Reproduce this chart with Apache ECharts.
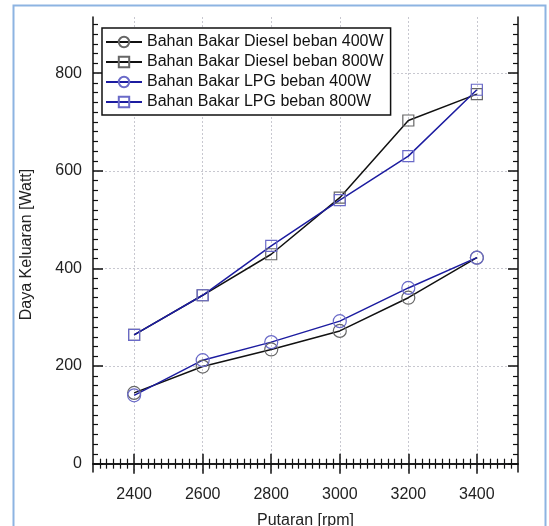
<!DOCTYPE html>
<html>
<head>
<meta charset="utf-8">
<script src="https://cdn.jsdelivr.net/npm/echarts@6/dist/echarts.min.js"></script>
<style>
html,body{margin:0;padding:0;background:#fff;}
#c{width:549px;height:526px;}
</style>
</head>
<body>
<div id="c"></div>
<script>
// ---- data ----
const rpm = [2400, 2600, 2800, 3000, 3200, 3400];
const diesel400 = [145, 199, 234, 272, 340, 422];
const diesel800 = [264, 345, 429, 545, 703, 757];
const lpg400 = [140, 212, 249, 292, 360, 422];
const lpg800 = [264, 345, 446, 540, 630, 766];
const seriesNames = [
  'Bahan Bakar Diesel beban 400W',
  'Bahan Bakar Diesel beban 800W',
  'Bahan Bakar LPG beban 400W',
  'Bahan Bakar LPG beban 800W'
];
const xTicks = [2400, 2600, 2800, 3000, 3200, 3400];
const yTicks = [0, 200, 400, 600, 800];
const xLabel = 'Putaran [rpm]';
const yLabel = 'Daya Keluaran [Watt]';

const xMin = 2280, xMax = 3520;
const yMin = -17, yMax = 915;

const xMinor = [];
for (let v = 2300; v < xMax; v += 20) if (xTicks.indexOf(v) < 0) xMinor.push(v);
const yMinor = [];
for (let v = 0; v < yMax; v += 20) if (yTicks.indexOf(v) < 0) yMinor.push(v);

const font = 'Liberation Sans, Arial, sans-serif';

function axisBase(extra) {
  return Object.assign({
    type: 'value',
    axisLine: { show: false },
    axisTick: { show: false },
    axisLabel: { show: false },
    splitLine: { show: false }
  }, extra);
}

const xAxes = [
  axisBase({
    min: xMin, max: xMax, position: 'bottom',
    name: xLabel, nameLocation: 'middle', nameGap: 41,
    nameTextStyle: { fontFamily: font, fontSize: 16, color: '#222' },
    axisLine: { show: true, lineStyle: { color: '#111', width: 1.5 } },
    axisTick: { show: true, inside: true, length: 10, customValues: xTicks, lineStyle: { color: '#111', width: 1.5 } },
    axisLabel: { show: true, customValues: xTicks, margin: 15, fontFamily: font, fontSize: 16, color: '#222', formatter: v => String(v) },
    splitLine: { show: true, lineStyle: { color: '#c8c8d0', type: [2, 2], width: 1 } }
  }),
  axisBase({ min: xMin, max: xMax, position: 'bottom',
    axisTick: { show: true, inside: true, length: 5, customValues: xMinor, lineStyle: { color: '#111', width: 1.2 } } }),
  axisBase({ min: xMin, max: xMax, position: 'top',
    axisLine: { show: true, lineStyle: { color: '#111', width: 1.5 } },
    axisTick: { show: true, inside: true, length: 10, customValues: xTicks, lineStyle: { color: '#111', width: 1.5 } } }),
  axisBase({ min: xMin, max: xMax, position: 'top',
    axisTick: { show: true, inside: true, length: 5, customValues: xMinor, lineStyle: { color: '#111', width: 1.2 } } })
];

const yAxes = [
  axisBase({
    min: yMin, max: yMax, position: 'left',
    name: yLabel, nameLocation: 'middle', nameGap: 58,
    nameTextStyle: { fontFamily: font, fontSize: 16, color: '#222' },
    axisLine: { show: true, lineStyle: { color: '#111', width: 1.5 } },
    axisTick: { show: true, inside: true, length: 10, customValues: yTicks, lineStyle: { color: '#111', width: 1.5 } },
    axisLabel: { show: true, customValues: yTicks, margin: 11, fontFamily: font, fontSize: 16, color: '#222', formatter: v => String(v) },
    splitLine: { show: true, lineStyle: { color: '#c8c8d0', type: [2, 2], width: 1 } }
  }),
  axisBase({ min: yMin, max: yMax, position: 'left',
    axisTick: { show: true, inside: true, length: 5, customValues: yMinor, lineStyle: { color: '#111', width: 1.2 } } }),
  axisBase({ min: yMin, max: yMax, position: 'right',
    axisLine: { show: true, lineStyle: { color: '#111', width: 1.5 } },
    axisTick: { show: true, inside: true, length: 10, customValues: yTicks, lineStyle: { color: '#111', width: 1.5 } } }),
  axisBase({ min: yMin, max: yMax, position: 'right',
    axisTick: { show: true, inside: true, length: 5, customValues: yMinor, lineStyle: { color: '#111', width: 1.2 } } })
];

function pairs(vals) { return rpm.map((r, i) => [r, vals[i]]); }

function mkSeries(name, vals, symbol, size, lineColor, markColor) {
  return {
    name: name, type: 'line', data: pairs(vals),
    xAxisIndex: 0, yAxisIndex: 0,
    symbol: symbol, symbolSize: size,
    lineStyle: { color: lineColor, width: 1.5 },
    itemStyle: { color: 'rgba(255,255,255,0)', borderColor: markColor, borderWidth: 1.2 },
    emphasis: { disabled: true },
    animation: false
  };
}

const series = [
  mkSeries(seriesNames[0], diesel400, 'circle', 13, '#111', '#666'),
  mkSeries(seriesNames[1], diesel800, 'rect', 11, '#111', '#666'),
  mkSeries(seriesNames[2], lpg400, 'circle', 13, '#1c1ca0', '#6a6ac8'),
  mkSeries(seriesNames[3], lpg800, 'rect', 11, '#1c1ca0', '#6a6ac8')
];

const chart = echarts.init(document.getElementById('c'), null, { renderer: 'canvas' });
chart.setOption({
  animation: false,
  backgroundColor: '#fff',
  grid: { left: 93, right: 31, top: 17, bottom: 54, containLabel: false, outerBoundsMode: 'none' },
  xAxis: xAxes,
  yAxis: yAxes,
  legend: {
    orient: 'vertical', left: 102, top: 28,
    backgroundColor: '#fff',
    borderColor: '#111', borderWidth: 1.5,
    padding: [6, 7, 5, 3],
    itemWidth: 36, itemHeight: 13, itemGap: 4,
    textStyle: { fontFamily: font, fontSize: 16, color: '#111' },
    data: seriesNames.map(n => ({ name: n }))
  },
  graphic: [{
    type: 'rect', silent: true,
    shape: { x: 13.5, y: 5.5, width: 532, height: 540 },
    style: { fill: 'none', stroke: '#8db4e2', lineWidth: 2 }
  }],
  series: series
});
</script>
</body>
</html>
